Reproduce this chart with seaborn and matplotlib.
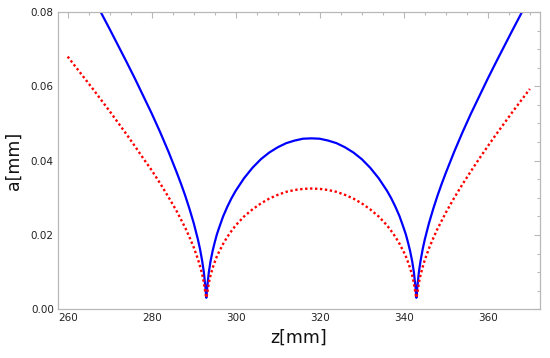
import matplotlib
matplotlib.use("Agg")
import matplotlib.pyplot as plt
import seaborn as sns
import pandas as pd
from matplotlib.ticker import MultipleLocator

# Blue solid curve
z_blue = [267.5, 268, 270, 272, 274, 276, 278, 280, 282, 284, 286, 287, 288, 289, 290, 291,
          291.5, 292, 292.4, 292.8, 293,
          293.2, 293.6, 294, 294.5, 295, 295.5, 296, 297, 298, 299, 300, 302, 304, 306, 308,
          310, 312, 314, 316, 318, 320, 322, 324, 326, 328, 330, 332, 334, 336, 337, 338,
          339, 340, 340.5, 341, 341.5, 342, 342.4, 342.8, 343,
          343.2, 343.6, 344, 344.5, 345, 346, 347, 348, 349, 350, 352, 354, 356, 358, 360,
          362, 364, 366, 368, 368.5]
a_blue = [0.0807, 0.0797, 0.0754, 0.0710, 0.0666, 0.0621, 0.0574, 0.0527, 0.0477, 0.0424,
          0.0367, 0.0337, 0.0305, 0.0270, 0.0232, 0.0188, 0.0162, 0.0131, 0.0101, 0.0058,
          0.0031,
          0.0058, 0.0100, 0.0129, 0.0157, 0.0180, 0.0201, 0.0218, 0.0250, 0.0276, 0.0299,
          0.0319, 0.0353, 0.0381, 0.0404, 0.0422, 0.0436, 0.0447, 0.0454, 0.0459, 0.0460,
          0.0459, 0.0454, 0.0447, 0.0436, 0.0422, 0.0404, 0.0381, 0.0353, 0.0319, 0.0299,
          0.0276, 0.0250, 0.0218, 0.0201, 0.0180, 0.0157, 0.0129, 0.0100, 0.0058, 0.0031,
          0.0058, 0.0101, 0.0131, 0.0162, 0.0188, 0.0232, 0.0270, 0.0305, 0.0337, 0.0367,
          0.0424, 0.0477, 0.0527, 0.0574, 0.0621, 0.0666, 0.0710, 0.0754, 0.0797, 0.0807]

# Red dotted curve
z_red = [260, 262, 264, 266, 268, 270, 272, 274, 276, 278, 280, 282, 284, 286, 287, 288,
         289, 290, 291, 291.5, 292, 292.4, 292.8, 293,
         293.2, 293.6, 294, 294.5, 295, 295.5, 296, 297, 298, 299, 300, 302, 304, 306, 308,
         310, 312, 314, 316, 318, 320, 322, 324, 326, 328, 330, 332, 334, 336, 337, 338,
         339, 340, 340.5, 341, 341.5, 342, 342.4, 342.8, 343,
         343.2, 343.6, 344, 344.5, 345, 346, 347, 348, 349, 350, 352, 354, 356, 358, 360,
         362, 364, 366, 368, 370]
a_red = [0.0680, 0.0651, 0.0622, 0.0593, 0.0563, 0.0533, 0.0502, 0.0471, 0.0439, 0.0406,
         0.0374, 0.0339, 0.0302, 0.0263, 0.0241, 0.0219, 0.0194, 0.0167, 0.0135, 0.0116,
         0.0095, 0.0073, 0.0042, 0.0031,
         0.0041, 0.0071, 0.0091, 0.0111, 0.0127, 0.0142, 0.0154, 0.0176, 0.0195, 0.0211,
         0.0226, 0.0250, 0.0269, 0.0285, 0.0298, 0.0308, 0.0316, 0.0321, 0.0324, 0.0325,
         0.0324, 0.0321, 0.0316, 0.0308, 0.0298, 0.0285, 0.0269, 0.0250, 0.0226, 0.0211,
         0.0195, 0.0176, 0.0154, 0.0142, 0.0127, 0.0111, 0.0091, 0.0071, 0.0041, 0.0031,
         0.0041, 0.0072, 0.0093, 0.0114, 0.0133, 0.0164, 0.0191, 0.0216, 0.0238, 0.0260,
         0.0300, 0.0337, 0.0372, 0.0406, 0.0439, 0.0471, 0.0502, 0.0533, 0.0563, 0.0593]

x_ticks = [260, 280, 300, 320, 340, 360]
y_ticks = [0.00, 0.02, 0.04, 0.06, 0.08]
y_tick_labels = ["0.00", "0.02", "0.04", "0.06", "0.08"]

sns.set_style("white")
plt.rcParams['font.family'] = ['DejaVu Sans']

fig = plt.figure(figsize=(5.5, 3.58), dpi=100)
ax = fig.add_axes([58 / 550, 1 - 309.3 / 358, (539.5 - 58) / 550, (309.3 - 12) / 358])

df_b = pd.DataFrame({"z": z_blue, "a": a_blue})
df_r = pd.DataFrame({"z": z_red, "a": a_red})
sns.lineplot(data=df_b, x="z", y="a", ax=ax, color=(0, 0, 1), lw=1.6, sort=False)
sns.lineplot(data=df_r, x="z", y="a", ax=ax, color=(1, 0, 0), lw=1.7, sort=False,
             linestyle=(0, (1, 1.1)))

ax.set_xlim(257.7, 372.3)
ax.set_ylim(0, 0.08)
ax.set_xticks(x_ticks)
ax.set_yticks(y_ticks)
ax.set_yticklabels(y_tick_labels)
ax.xaxis.set_minor_locator(MultipleLocator(5))
ax.yaxis.set_minor_locator(MultipleLocator(0.005))

frame_c = "#b8b8b8"
for s in ax.spines.values():
    s.set_color(frame_c)
    s.set_linewidth(0.9)
ax.tick_params(which="both", direction="in", color=frame_c, top=True, right=True,
               labeltop=False, labelright=False, width=0.8)
ax.tick_params(which="major", length=4.5, labelsize=7.5, labelcolor="#222222", pad=3)
ax.tick_params(which="minor", length=2.5)

ax.set_xlabel("z[mm]", fontsize=12.5, color="#111111", labelpad=4)
ax.set_ylabel("a[mm]", fontsize=12.5, color="#111111", labelpad=6)

fig.savefig("out.png", dpi=100)
